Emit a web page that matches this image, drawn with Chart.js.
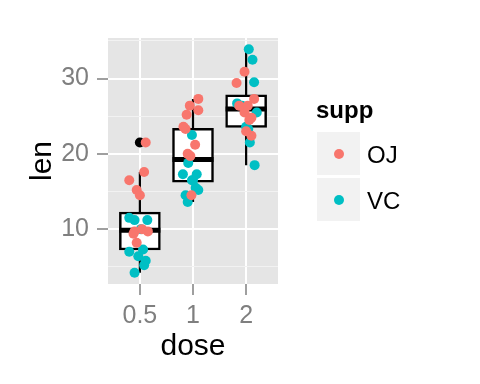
<!DOCTYPE html>
<html>
<head>
<meta charset="utf-8">
<script src="https://cdn.jsdelivr.net/npm/chart.js@4/dist/chart.umd.min.js"></script>
<style>
html,body{margin:0;padding:0;background:#fff;}
#wrap{position:relative;width:480px;height:384px;font-family:"Liberation Sans",Arial,Helvetica,sans-serif;}
canvas{position:absolute;left:0;top:0;}
.lg{position:absolute;font-size:24px;line-height:24px;color:#000;white-space:nowrap;}
.key{position:absolute;width:43px;height:43px;background:#f2f2f2;}
.dot{position:absolute;width:10px;height:10px;border-radius:50%;left:16.5px;top:16.5px;}
</style>
</head>
<body>
<div id="wrap">
<canvas id="c" width="480" height="384"></canvas>
<div id="legend"></div>
</div>
<script>
// ---- data (ToothGrowth) ----
const categories = ['0.5', '1', '2'];

const ojDose   = ['0.5','0.5','0.5','0.5','0.5','0.5','0.5','0.5','0.5','0.5',
                  '1','1','1','1','1','1','1','1','1','1',
                  '2','2','2','2','2','2','2','2','2','2'];
const ojLen    = [15.2, 21.5, 17.6, 9.7, 14.5, 10.0, 8.2, 9.4, 16.5, 9.7,
                  19.7, 23.3, 23.6, 26.4, 20.0, 25.2, 25.8, 21.2, 14.5, 27.3,
                  25.5, 26.4, 22.4, 24.5, 24.8, 30.9, 26.4, 27.3, 29.4, 23.0];
const ojJitter = [-0.06, 0.11, 0.08, -0.10, 0.00, 0.04, -0.06, -0.12, -0.20, 0.15,
                  -0.05, -0.14, -0.18, -0.06, -0.10, -0.12, 0.10, 0.04, -0.03, 0.10,
                  -0.03, -0.13, 0.10, 0.06, 0.10, -0.03, 0.03, 0.15, -0.18, 0.00];

const vcDose   = ['0.5','0.5','0.5','0.5','0.5','0.5','0.5','0.5','0.5','0.5',
                  '1','1','1','1','1','1','1','1','1','1',
                  '2','2','2','2','2','2','2','2','2','2'];
const vcLen    = [4.2, 11.5, 7.3, 5.8, 6.4, 10.0, 11.2, 11.2, 5.2, 7.0,
                  16.5, 16.5, 15.2, 17.3, 22.5, 17.3, 13.6, 14.5, 18.8, 15.5,
                  23.6, 18.5, 33.9, 25.5, 26.4, 32.5, 26.7, 21.5, 23.3, 29.5];
const vcJitter = [-0.10, -0.20, 0.06, 0.11, -0.03, 0.02, -0.10, 0.14, 0.08, -0.20,
                  0.00, -0.02, 0.10, -0.19, -0.02, 0.07, -0.10, -0.14, -0.09, 0.05,
                  0.00, 0.16, 0.05, 0.20, -0.08, 0.12, -0.17, 0.07, 0.04, 0.15];

// box plot statistics per dose
const boxLow    = [4.2, 13.6, 18.5];
const boxQ1     = [7.225, 16.25, 23.525];
const boxMedian = [9.85, 19.25, 25.95];
const boxQ3     = [12.25, 23.375, 27.825];
const boxHigh   = [17.6, 27.3, 33.9];
const outlierDose  = ['0.5'];
const outlierValue = [21.5];

const yTicks = [5, 10, 15, 20, 25, 30, 35];
const seriesNames = ['OJ', 'VC'];
// ---- end data ----

const COLORS = {OJ: '#F8766D', VC: '#00BFC4'};
const BOX_HALF = 0.386;
const FONT = '"Liberation Sans", Arial, Helvetica, sans-serif';
const pos = d => categories.indexOf(d) + 1;
const toPts = (doses, lens, jit) => lens.map((v, i) => ({x: pos(doses[i]) + jit[i], y: v}));

const medianSegs = [];
const whiskerSegs = [];
categories.forEach((c, i) => {
  const p = i + 1;
  medianSegs.push({x: p - BOX_HALF, y: boxMedian[i]}, {x: p + BOX_HALF, y: boxMedian[i]}, {x: p + BOX_HALF, y: null});
  whiskerSegs.push({x: p, y: boxLow[i]}, {x: p, y: boxQ1[i]}, {x: p, y: null},
                   {x: p, y: boxQ3[i]}, {x: p, y: boxHigh[i]}, {x: p, y: null});
});

const panelBg = {
  id: 'panelBg',
  beforeDraw(chart) {
    const {ctx, chartArea: a} = chart;
    ctx.save();
    ctx.fillStyle = '#e5e5e5';
    ctx.fillRect(a.left, a.top, a.right - a.left, a.bottom - a.top);
    ctx.restore();
  }
};

new Chart(document.getElementById('c'), {
  type: 'scatter',
  data: {
    datasets: [
      {type: 'scatter', label: 'OJ', data: toPts(ojDose, ojLen, ojJitter),
       backgroundColor: COLORS.OJ, borderWidth: 0, pointRadius: 5, order: 0},
      {type: 'scatter', label: 'VC', data: toPts(vcDose, vcLen, vcJitter),
       backgroundColor: COLORS.VC, borderWidth: 0, pointRadius: 5, order: 1},
      {type: 'scatter', label: 'outlier', data: outlierValue.map((v, i) => ({x: pos(outlierDose[i]), y: v})),
       backgroundColor: '#000', borderWidth: 0, pointRadius: 5, order: 2},
      {type: 'line', label: 'median', data: medianSegs, borderColor: '#000', borderWidth: 5,
       pointRadius: 0, spanGaps: false, borderCapStyle: 'butt', order: 3},
      {type: 'line', label: 'whisker', data: whiskerSegs, borderColor: '#000', borderWidth: 2.2,
       pointRadius: 0, spanGaps: false, borderCapStyle: 'butt', order: 4},
      {type: 'bar', label: 'box', data: categories.map((c, i) => ({x: i + 1, y: [boxQ1[i], boxQ3[i]]})),
       backgroundColor: '#fff', borderColor: '#000', borderWidth: 2.5, borderSkipped: false,
       barThickness: 41, order: 5}
    ]
  },
  options: {
    responsive: false,
    animation: false,
    events: [],
    layout: {padding: {top: 38, right: 202, left: 0, bottom: 0}},
    plugins: {legend: {display: false}, tooltip: {enabled: false}},
    scales: {
      x: {
        type: 'linear', min: 0.4, max: 3.6, offset: false,
        afterBuildTicks: s => { s.ticks = categories.map((c, i) => ({value: i + 1})); },
        afterFit: s => { s.height = 100; },
        grid: {offset: false, color: '#ffffff', lineWidth: 2, tickColor: '#7f7f7f', tickLength: 11, tickWidth: 1.5},
        border: {display: false},
        ticks: {font: {family: FONT, size: 25}, color: '#7f7f7f', padding: 6, maxRotation: 0,
                callback: v => categories[Math.round(v) - 1]},
        title: {display: true, text: 'dose', color: '#000', font: {family: FONT, size: 30},
                padding: {top: 0, bottom: 19}}
      },
      y: {
        type: 'linear', min: 2.715, max: 35.385, beginAtZero: false,
        afterBuildTicks: s => { s.ticks = yTicks.map(v => ({value: v})); },
        afterFit: s => { s.width = 108; },
        grid: {
          color: c => (c.tick && c.tick.value % 10 === 0) ? '#ffffff' : '#f2f2f2',
          lineWidth: c => (c.tick && c.tick.value % 10 === 0) ? 2 : 1,
          tickColor: c => (c.tick && c.tick.value % 10 === 0) ? '#7f7f7f' : 'rgba(0,0,0,0)',
          tickLength: 11, tickWidth: 1.5
        },
        border: {display: false},
        ticks: {font: {family: FONT, size: 25}, color: '#7f7f7f', padding: 8,
                callback: v => (v % 10 === 0 ? String(v) : '')},
        title: {display: true, text: 'len', color: '#000', font: {family: FONT, size: 30},
                padding: {top: 25, bottom: 0}}
      }
    }
  },
  plugins: [panelBg]
});

// legend (ggplot style)
const lg = document.getElementById('legend');
let html = '<div class="lg" style="left:316px;top:98px;font-weight:bold">supp</div>';
seriesNames.forEach((n, i) => {
  const top = 132 + i * 46;
  html += '<div class="key" style="left:317px;top:' + top + 'px"><div class="dot" style="background:' + COLORS[n] + '"></div></div>';
  html += '<div class="lg" style="left:367px;top:' + (top + 11) + 'px">' + n + '</div>';
});
lg.innerHTML = html;
</script>
</body>
</html>
